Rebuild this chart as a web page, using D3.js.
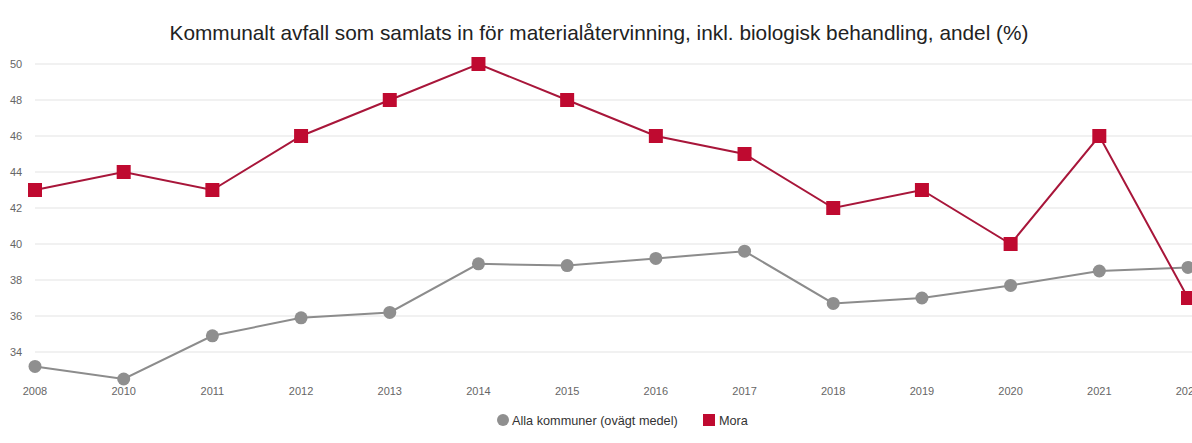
<!DOCTYPE html>
<html><head><meta charset="utf-8">
<script src="https://cdn.jsdelivr.net/npm/d3@7"></script>
<style>body{margin:0;background:#fff;overflow:hidden}svg{display:block;font-family:"Liberation Sans",Arial,sans-serif}</style>
</head><body><svg id="c" width="1192" height="443"></svg>
<script>
const years = ["2008","2010","2011","2012","2013","2014","2015","2016","2017","2018","2019","2020","2021","2022"];
const allaKommuner = [33.2,32.5,34.9,35.9,36.2,38.9,38.8,39.2,39.6,36.7,37.0,37.7,38.5,38.7];
const mora = [43,44,43,46,48,50,48,46,45,42,43,40,46,37];
const yTicks = [34,36,38,40,42,44,46,48,50];
const seriesNames = ["Alla kommuner (ovägt medel)","Mora"];
const title = "Kommunalt avfall som samlats in för materialåtervinning, inkl. biologisk behandling, andel (%)";

const svg = d3.select("#c");
const x = d3.scalePoint().domain(years).range([35, 1188]);
const y = d3.scaleLinear().domain([34, 50]).range([352, 64]);

svg.append("text").attr("x", 599).attr("y", 40).attr("text-anchor","middle")
  .attr("font-size", 20.8).attr("fill","#222").text(title);

const grid = svg.append("g");
grid.selectAll("line").data(yTicks).join("line")
  .attr("x1", 35).attr("x2", 1192).attr("y1", d=>y(d)).attr("y2", d=>y(d))
  .attr("stroke","#e3e3e3").attr("stroke-width",1);
grid.selectAll("text").data(yTicks).join("text")
  .attr("x", 10).attr("y", d=>y(d)+4).attr("font-size", 11).attr("fill","#666").text(d=>d);

svg.append("g").selectAll("text").data(years).join("text")
  .attr("x", d=>x(d)).attr("y", 395).attr("text-anchor","middle")
  .attr("font-size", 11).attr("fill","#666").text(d=>d);

const line = d3.line().x((d,i)=>x(years[i])).y(d=>y(d));
svg.append("path").datum(allaKommuner).attr("d", line).attr("fill","none")
  .attr("stroke","#8c8c8c").attr("stroke-width",2);
svg.append("path").datum(mora).attr("d", line).attr("fill","none")
  .attr("stroke","#a8163a").attr("stroke-width",2);

svg.append("g").selectAll("circle").data(allaKommuner).join("circle")
  .attr("cx",(d,i)=>x(years[i])).attr("cy", d=>y(d)).attr("r",6.5).attr("fill","#8f8f8f");
svg.append("g").selectAll("rect").data(mora).join("rect")
  .attr("x",(d,i)=>x(years[i])-7).attr("y", d=>y(d)-7).attr("width",14).attr("height",14).attr("fill","#bf0a30");

const lg = svg.append("g");
lg.append("circle").attr("cx",503).attr("cy",420).attr("r",6).attr("fill","#8f8f8f");
lg.append("text").attr("x",512).attr("y",424.5).attr("font-size",12.7).attr("fill","#333").text(seriesNames[0]);
lg.append("rect").attr("x",703).attr("y",414).attr("width",12).attr("height",12).attr("fill","#bf0a30");
lg.append("text").attr("x",719).attr("y",424.5).attr("font-size",12.7).attr("fill","#333").text(seriesNames[1]);
</script></body></html>
